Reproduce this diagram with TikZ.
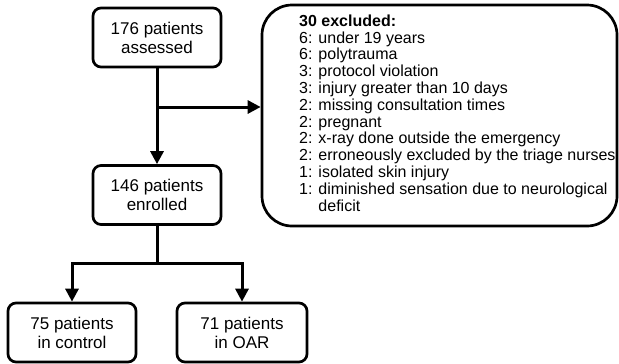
\documentclass[tikz,border=0pt]{standalone}
\usepackage{fontspec}
\setmainfont{Liberation Sans}
\usetikzlibrary{arrows.meta,positioning}

\tikzset{
    stage/.style={draw,line width=2.7bp,rounded corners=8bp,
        minimum width=128bp,minimum height=59bp,inner sep=0pt,
        align=center,font=\fontsize{17bp}{19bp}\selectfont},
    flow/.style={line width=3bp,-{Triangle[width=13bp,length=13bp]}}
}

\begin{document}
\begin{tikzpicture}[x=1bp,y=-1bp]
    \useasboundingbox (0,0) rectangle (619,363);
    \node[stage] (assessed) at (157,37.5) {176 patients\\assessed};
    \node[stage] (enrolled) at (157,195) {146 patients\\enrolled};
    \node[stage] (control) at (72,332.5) {75 patients\\in control};
    \node[stage,minimum width=130bp] (oar) at (242,332.5) {71 patients\\in OAR};
    \node[draw,line width=2.7bp,rounded corners=30bp,
        minimum width=355bp,minimum height=221bp] (excluded) at (439.5,115.5) {};
    \node[anchor=north west,align=left,inner sep=0pt,
        font=\fontsize{16bp}{16.8bp}\selectfont] (reasons) at (299,14.5)
        {\textbf{30 excluded:}\\
        6: under 19 years\\
        6: polytrauma\\
        3: protocol violation\\
        3: injury greater than 10 days\\
        2: missing consultation times\\
        2: pregnant\\
        2: x-ray done outside the emergency\\
        2: erroneously excluded by the triage nurses\\
        1: isolated skin injury\\
        1: diminished sensation due to neurological\\
        \phantom{1: }deficit};
    \coordinate (split) at (157,107);
    \coordinate (fork) at (157,263);
    \draw[flow] (assessed) -- (enrolled);
    \draw[flow] (split) -- (split -| excluded.west);
    \draw[line width=3bp] (enrolled) -- (fork);
    \draw[flow] (fork) -| (control);
    \draw[flow] (fork) -| (oar);
\end{tikzpicture}
\end{document}
